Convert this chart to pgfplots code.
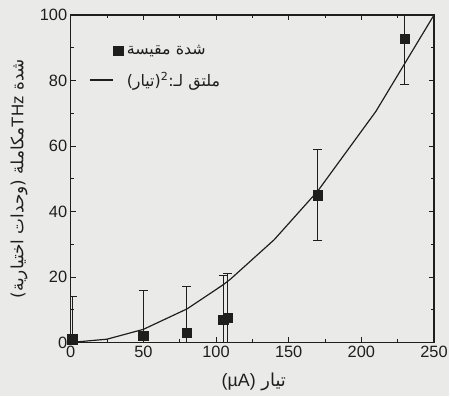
\documentclass[border=0pt]{standalone}
\usepackage{fontspec}
\setmainfont{Liberation Sans}
\newfontfamily\arabicfont[Script=Arabic]{DejaVu Sans}
\TeXXeTstate=1
\usepackage{pgfplots}
\pgfplotsset{compat=1.18}
\usetikzlibrary{backgrounds}
\definecolor{bg}{RGB}{234,234,232}
\definecolor{ink}{RGB}{30,30,30}
\pgfplotsset{
  markleg/.style={legend image code/.code={\draw[##1] plot coordinates {(0.98cm,0cm)};}},
  lineleg/.style={legend image code/.code={\draw[##1] (0cm,0cm) -- (0.8cm,0cm);}},
}
\begin{document}
\begin{tikzpicture}
\begin{axis}[
  name=ax,
  scale only axis, width=365bp, height=329bp,
  xmin=0, xmax=250, ymin=0, ymax=100,
  xtick={0,50,...,250}, ytick={0,20,...,100},
  minor x tick num=1, minor y tick num=1,
  tick align=inside, major tick length=5bp, minor tick length=3bp,
  axis line style={ink, line width=1.2pt},
  every tick/.style={ink, line width=0.8pt},
  ticklabel style={font=\fontsize{16.5}{18}\selectfont, text=ink},
  /pgf/number format/assume math mode=true,
  xlabel={{\arabicfont\beginR تيار {\normalfont\beginL(µA)\endL}\endR}},
  ylabel={{\arabicfont\beginR شدة {\normalfont\beginL THz\endL}مكاملة (وحدات اختيارية)\endR}},
  xlabel style={at={(axis description cs:0.504,-0.119)}, anchor=center, font=\fontsize{18}{20}\selectfont, text=ink},
  ylabel style={at={(axis description cs:-0.142,0.5)}, anchor=center, font=\fontsize{17}{19}\selectfont, text=ink},
  legend style={draw=none, fill=none, at={(axis cs:11,92)}, anchor=north west,
    font=\fontsize{16}{18}\selectfont, row sep=12bp, text=ink,
    nodes={inner xsep=4bp}},
  legend cell align=left,
]
\addplot[ink, only marks, mark=square*, mark size=4.7bp, markleg,
  error bars/.cd, y dir=both, y explicit,
  error bar style={ink, line width=1pt},
  error mark options={rotate=90, mark size=4.5bp, line width=1pt, ink}]
  coordinates {
  (1,1) +- (0,13)
  (50,2) +- (0,14)
  (80,3) +- (0,14)
  (105,7) +- (0,13.5)
  (108,7.5) +- (0,13.5)
  (170,45) +- (0,14)
  (230,92.7) +- (0,14)
  };
\addlegendentry{{\arabicfont\beginR شدة مقيسة\endR}}
\addplot[ink, line width=1.2pt, no marks, lineleg]
  coordinates {
  (0,0) (25,1) (50,4) (80,10.24) (105,17.64) (110,19.36) (140,31.36) (170,46.24) (210,70.56) (250,100)
  };
\addlegendentry{{\arabicfont\beginR ملتق لـ:\textsuperscript{2}(تيار)\endR}}
\end{axis}
\begin{scope}[on background layer]
\fill[bg] ([xshift=-71bp,yshift=-54bp]ax.south west) rectangle ([xshift=15bp,yshift=15bp]ax.north east);
\end{scope}
\path[use as bounding box] ([xshift=-71bp,yshift=-54bp]ax.south west) rectangle ([xshift=15bp,yshift=15bp]ax.north east);
\end{tikzpicture}
\end{document}
